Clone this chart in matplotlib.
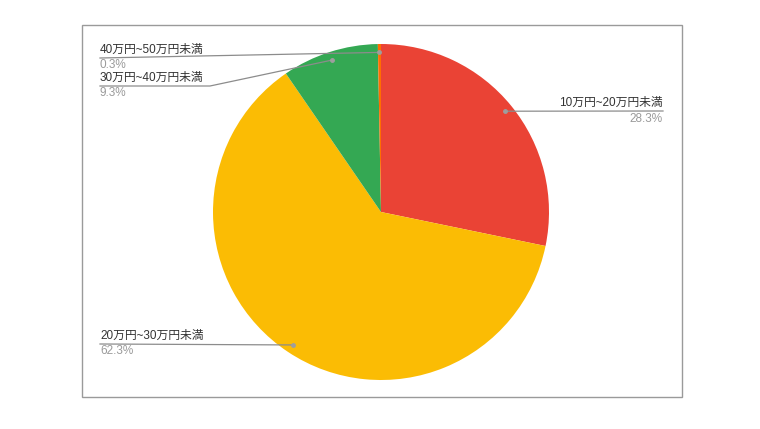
import matplotlib
matplotlib.use("Agg")
import matplotlib.pyplot as plt
import numpy as np
from matplotlib.patches import Rectangle

plt.rcParams['font.family'] = ['Liberation Sans', 'Noto Sans CJK JP', 'DejaVu Sans']

# data
labels = ['10万円~20万円未満', '20万円~30万円未満', '30万円~40万円未満', '40万円~50万円未満']
values = [28.3, 62.3, 9.3, 0.3]
colors = ['#EA4335', '#FBBC04', '#34A853', '#FF6D01']

W, H = 760, 429
fig = plt.figure(figsize=(W / 100, H / 100), dpi=100)
ax = fig.add_axes([0, 0, 1, 1])

# frame
ax.add_patch(Rectangle((82, H - 397), 600, 372, fill=False, ec='#9a9a9a', lw=1.0))

# pie
cx, cy, r = 381, H - 212, 168
wedges, _ = ax.pie(values, colors=colors, startangle=90, counterclock=False,
                   radius=r, center=(cx, cy), frame=True,
                   wedgeprops=dict(linewidth=0))
ax.set_xlim(0, W)
ax.set_ylim(0, H)
ax.set_aspect('equal')
ax.axis('off')

# label layout: (line y in px from top, side, elbow x)
layout = [
    (111, 'right', None),
    (344, 'left', None),
    (86, 'left', 210),
    (58, 'left', None),
]

line_col = '#8c8c8c'
for w, lab, val, (ly, side, elbow) in zip(wedges, labels, values, layout):
    mid = np.deg2rad((w.theta1 + w.theta2) / 2)
    dx = cx + 0.95 * r * np.cos(mid)
    dy = cy + 0.95 * r * np.sin(mid)
    y = H - ly
    if side == 'right':
        xs, ys = [dx, 663], [dy, y]
        tx, ha = 663, 'right'
    else:
        if elbow is None:
            xs, ys = [dx, 100], [dy, y]
        else:
            xs, ys = [dx, elbow, 100], [dy, y, y]
        tx, ha = 100, 'left'
    ax.plot(xs, ys, color=line_col, lw=0.9, zorder=3)
    ax.plot([dx], [dy], 'o', color='#9e9e9e', ms=2.5, zorder=4)
    ax.text(tx, y + 2, lab, ha=ha, va='bottom', fontsize=8.5, color='#333333')
    ax.text(tx, y - 1.5, f'{val}%', ha=ha, va='top', fontsize=8.5, color='#9a9a9a')

fig.savefig('out.png', dpi=100)
